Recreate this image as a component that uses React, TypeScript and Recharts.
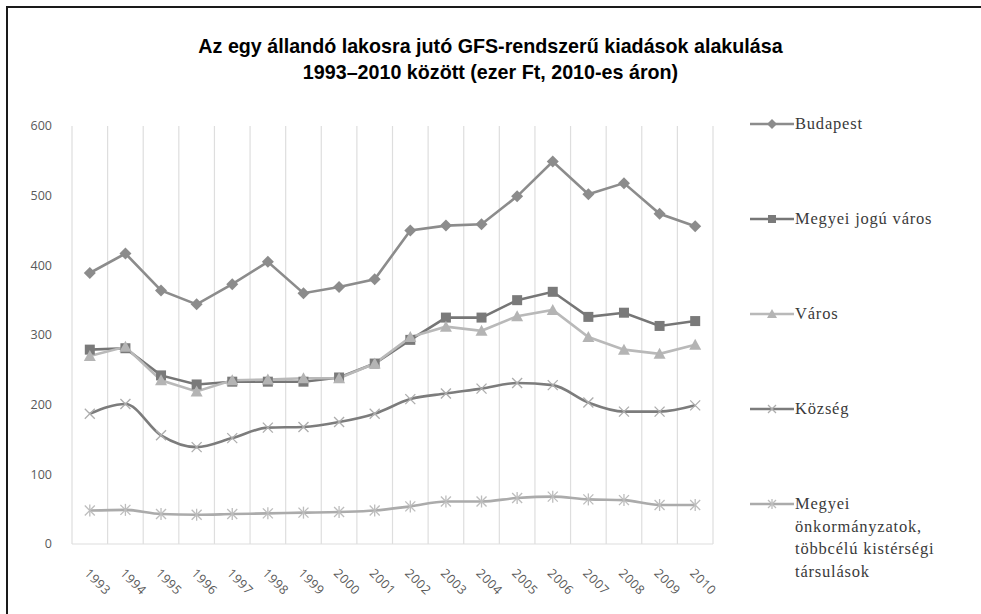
import React from 'react';
import { LineChart, Line, XAxis, YAxis, CartesianGrid } from 'recharts';

const years = [1993, 1994, 1995, 1996, 1997, 1998, 1999, 2000, 2001, 2002, 2003, 2004, 2005, 2006, 2007, 2008, 2009, 2010];
const budapest = [389, 417, 364, 344, 373, 405, 360, 369, 380, 450, 457, 459, 499, 549, 502, 518, 474, 456];
const megyeiJogu = [279, 281, 242, 229, 233, 233, 233, 239, 259, 293, 325, 325, 350, 362, 326, 332, 313, 320];
const varos = [270, 283, 235, 219, 235, 236, 238, 238, 259, 297, 312, 306, 327, 336, 297, 279, 273, 286];
const kozseg = [187, 201, 156, 139, 152, 167, 168, 175, 187, 208, 216, 223, 231, 228, 203, 190, 190, 199];
const megyeiOnk = [48, 49, 43, 42, 43, 44, 45, 46, 48, 54, 61, 61, 66, 68, 64, 63, 56, 56];
const yTicks = [0, 100, 200, 300, 400, 500, 600];
const gridTicks = [...years.map((y) => y - 0.5), 2010.5];

const data = years.map((year, i) => ({
    year,
    budapest: budapest[i],
    megyeiJogu: megyeiJogu[i],
    varos: varos[i],
    kozseg: kozseg[i],
    megyeiOnk: megyeiOnk[i],
}));

type Shape = 'diamond' | 'square' | 'triangle' | 'x' | 'star';

const series: { key: string; name: string[]; color: string; mark: string; shape: Shape; smooth: boolean }[] = [
    { key: 'budapest', name: ['Budapest'], color: '#8c8c8c', mark: '#8c8c8c', shape: 'diamond', smooth: false },
    { key: 'megyeiJogu', name: ['Megyei jogú város'], color: '#767676', mark: '#7a7a7a', shape: 'square', smooth: false },
    { key: 'varos', name: ['Város'], color: '#b9b9b9', mark: '#b4b4b4', shape: 'triangle', smooth: false },
    { key: 'kozseg', name: ['Község'], color: '#7c7c7c', mark: '#adadad', shape: 'x', smooth: true },
    { key: 'megyeiOnk', name: ['Megyei', 'önkormányzatok,', 'többcélú kistérségi', 'társulások'], color: '#ababab', mark: '#bdbdbd', shape: 'star', smooth: true },
];

function Marker({ cx, cy, shape, color, s = 5 }: { cx: number; cy: number; shape: Shape; color: string; s?: number }) {
    if (cx == null || cy == null) return null;
    switch (shape) {
        case 'diamond':
            return <polygon points={`${cx},${cy - s - 1} ${cx + s + 1},${cy} ${cx},${cy + s + 1} ${cx - s - 1},${cy}`} fill={color} />;
        case 'square':
            return <rect x={cx - s} y={cy - s} width={s * 2} height={s * 2} fill={color} />;
        case 'triangle':
            return <polygon points={`${cx},${cy - s - 1} ${cx + s + 1},${cy + s} ${cx - s - 1},${cy + s}`} fill={color} />;
        case 'x':
            return (
                <g stroke={color} strokeWidth={1.3}>
                    <line x1={cx - s} y1={cy - s} x2={cx + s} y2={cy + s} />
                    <line x1={cx - s} y1={cy + s} x2={cx + s} y2={cy - s} />
                </g>
            );
        case 'star':
            return (
                <g stroke={color} strokeWidth={1.3}>
                    <line x1={cx - s} y1={cy - s} x2={cx + s} y2={cy + s} />
                    <line x1={cx - s} y1={cy + s} x2={cx + s} y2={cy - s} />
                    <line x1={cx} y1={cy - s - 1} x2={cx} y2={cy + s + 1} />
                </g>
            );
    }
    return null;
}

const YearTick = (props: any) => {
    const { x, y, payload } = props;
    return (
        <text x={x - 6} y={y + 22} transform={`rotate(45 ${x - 6} ${y + 22})`} textAnchor="start" fontSize={12.5} letterSpacing={0.5} fill="#595959" fontFamily="'Open Sans', sans-serif">
            {payload.value}
        </text>
    );
};

export default function App() {
    return (
        <div style={{ position: 'absolute', left: 0, top: 0, width: 981, height: 614, background: '#fff' }}>
            <div style={{ position: 'absolute', left: 6, top: 6, right: 0, bottom: 0, borderTop: '2px solid #1a1a1a', borderLeft: '2px solid #1a1a1a' }} />
            <div style={{ position: 'absolute', left: 0, top: 33, width: 981, textAlign: 'center', fontFamily: "'Liberation Sans', Arial, sans-serif", fontWeight: 'bold', fontSize: 19.7, lineHeight: '26px', color: '#000' }}>
                Az egy állandó lakosra jutó GFS-rendszerű kiadások alakulása
                <br />
                1993–2010 között (ezer Ft, 2010-es áron)
            </div>
            <div style={{ position: 'absolute', left: 0, top: 0 }}>
                <LineChart width={981} height={614} data={data} margin={{ top: 126, right: 268, bottom: 10, left: 22 }}>
                    <CartesianGrid xAxisId="grid" vertical horizontal={false} stroke="#dedede" strokeWidth={1.2} />
                    <XAxis xAxisId="grid" orientation="top" dataKey="year" type="number" domain={[1992.5, 2010.5]} ticks={gridTicks} interval={0} height={0} hide />
                    <XAxis
                        xAxisId="main"
                        dataKey="year"
                        type="number"
                        domain={[1992.5, 2010.5]}
                        ticks={years}
                        height={60}
                        tickLine={false}
                        axisLine={{ stroke: '#dedede', strokeWidth: 1.2 }}
                        tick={<YearTick />}
                        interval={0}
                    />
                    <YAxis
                        domain={[0, 600]}
                        ticks={yTicks}
                        width={50}
                        tickLine={false}
                        axisLine={false}
                        tickMargin={14}
                        tick={{ fontSize: 12.5, fill: '#595959', fontFamily: "'Open Sans', sans-serif" }}
                    />
                    {series.map((s) => (
                        <Line
                            key={s.key}
                            xAxisId="main"
                            dataKey={s.key}
                            type={s.smooth ? 'monotone' : 'linear'}
                            stroke={s.color}
                            strokeWidth={2.6}
                            isAnimationActive={false}
                            dot={(p: any) => <Marker key={`${s.key}-${p.index}`} cx={p.cx} cy={p.cy} shape={s.shape} color={s.mark} />}
                            activeDot={false}
                        />
                    ))}
                </LineChart>
            </div>
            {series.map((s, i) => (
                <div key={s.key} style={{ position: 'absolute', left: 750, top: 113 + i * 95, display: 'flex', alignItems: 'flex-start' }}>
                    <svg width={45} height={22} style={{ flex: 'none' }}>
                        <line x1={0} y1={11} x2={44} y2={11} stroke={s.color} strokeWidth={2.6} />
                        <Marker cx={22} cy={11} shape={s.shape} color={s.mark} s={4} />
                    </svg>
                    <div style={{ fontFamily: "'Liberation Serif', 'Times New Roman', serif", fontSize: 16.5, letterSpacing: 0.8, lineHeight: '22.5px', color: '#3a3a3a' }}>
                        {s.name.map((t) => (
                            <div key={t}>{t}</div>
                        ))}
                    </div>
                </div>
            ))}
        </div>
    );
}
